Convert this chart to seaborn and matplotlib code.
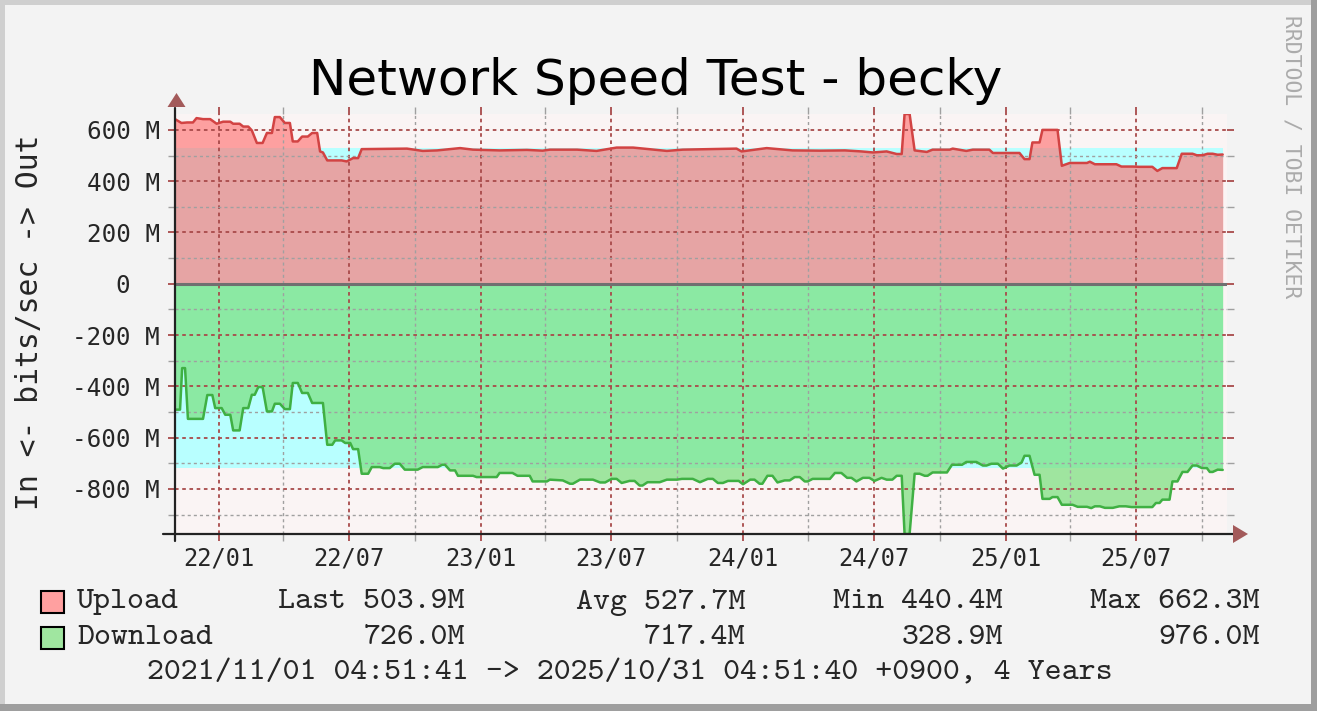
import numpy as np
import pandas as pd
import matplotlib
matplotlib.use("Agg")
import matplotlib.pyplot as plt
import matplotlib.dates as mdates
from matplotlib.ticker import MultipleLocator, FuncFormatter
from matplotlib.patches import Rectangle, Polygon
import seaborn as sns

# ---- data (Mbit/s) ----
start = pd.Timestamp("2021-11-01 04:51:41")
span_days = 1460

upload_day = [0, 9, 17, 25, 30, 39, 49, 58, 67, 77, 81, 90, 95, 102, 107, 114, 122,
              128, 135, 139, 146, 153, 160, 164, 171, 177, 185, 191, 198, 202, 206,
              212, 232, 239, 248, 255, 260, 323, 345, 365, 397, 415, 452, 490, 512,
              522, 560, 587, 615, 638, 685, 707, 782, 789, 824, 860, 898, 933, 956,
              972, 991, 1005, 1012, 1016, 1023, 1030, 1047, 1055, 1079, 1083, 1102,
              1111, 1134, 1139, 1176, 1183, 1190, 1194, 1204, 1208, 1229, 1235, 1246,
              1270, 1274, 1281, 1311, 1318, 1334, 1343, 1361, 1368, 1375, 1395, 1402,
              1417, 1423, 1431, 1438, 1445, 1452, 1459]
upload_mbps = [642, 627, 629, 629, 646, 642, 642, 624, 632, 632, 624, 624, 613, 613,
               598, 549, 549, 588, 588, 650, 650, 627, 627, 555, 555, 574, 574, 588,
               588, 516, 512, 481, 481, 477, 490, 490, 525, 527, 518, 520, 529, 523,
               520, 522, 519, 523, 523, 518, 531, 531, 518, 523, 527, 516, 529, 520,
               519, 520, 516, 512, 516, 506, 506, 662, 662, 520, 514, 523, 523, 527,
               518, 523, 523, 510, 510, 486, 486, 551, 551, 600, 600, 460, 471, 471,
               476, 466, 466, 457, 457, 456, 456, 440, 451, 451, 507, 507, 501, 501,
               507, 507, 503, 504]

download_day = [0, 7, 10, 14, 18, 39, 45, 52, 56, 65, 70, 77, 81, 90, 95, 102, 107,
                111, 116, 122, 128, 135, 139, 146, 153, 160, 164, 171, 177, 185, 191,
                206, 212, 219, 223, 232, 237, 244, 248, 255, 260, 269, 274, 285, 290,
                299, 306, 313, 320, 338, 345, 366, 372, 376, 383, 390, 394, 415, 420,
                448, 452, 470, 477, 494, 498, 518, 522, 540, 550, 554, 564, 582, 592,
                599, 608, 615, 622, 633, 640, 647, 651, 658, 675, 685, 699, 706, 721,
                731, 742, 749, 756, 763, 770, 785, 791, 801, 807, 814, 818, 825, 832,
                839, 849, 856, 863, 870, 877, 881, 888, 912, 919, 928, 936, 942, 949,
                958, 967, 974, 984, 991, 999, 1005, 1012, 1016, 1023, 1030, 1037, 1044,
                1048, 1055, 1075, 1082, 1096, 1102, 1116, 1125, 1130, 1137, 1146, 1153,
                1162, 1172, 1179, 1183, 1190, 1197, 1204, 1208, 1218, 1222, 1229, 1235,
                1250, 1257, 1270, 1276, 1281, 1288, 1295, 1306, 1315, 1324, 1332, 1361,
                1366, 1371, 1375, 1385, 1389, 1396, 1403, 1410, 1417, 1423, 1430, 1437,
                1441, 1445, 1452, 1459]
download_mbps = [491, 491, 329, 329, 527, 527, 434, 434, 485, 485, 511, 511, 572, 572,
                 485, 485, 433, 433, 403, 403, 498, 498, 468, 468, 489, 489, 387, 387,
                 426, 426, 465, 465, 628, 628, 611, 611, 621, 621, 645, 645, 741, 741,
                 715, 715, 719, 719, 702, 702, 725, 725, 715, 715, 706, 706, 728, 728,
                 749, 749, 754, 754, 738, 738, 749, 749, 771, 771, 764, 767, 780, 780,
                 764, 764, 775, 775, 761, 761, 777, 769, 769, 787, 787, 774, 774, 764,
                 764, 761, 761, 774, 761, 761, 777, 777, 769, 769, 782, 764, 764, 780,
                 780, 749, 749, 775, 767, 767, 754, 754, 771, 771, 761, 761, 738, 738,
                 757, 757, 771, 757, 757, 769, 757, 764, 764, 749, 749, 976, 976, 741,
                 741, 749, 749, 736, 736, 706, 706, 695, 695, 709, 709, 702, 702, 721,
                 709, 709, 697, 671, 671, 745, 745, 839, 839, 832, 832, 862, 862, 870,
                 870, 875, 868, 868, 874, 874, 868, 868, 871, 871, 855, 855, 842, 842,
                 771, 771, 734, 734, 709, 709, 719, 719, 734, 734, 725, 726]

upload_avg = 527.7
download_avg = 717.4

title = "Network Speed Test - becky"
y_label = "In <- bits/sec -> Out"
series_names = ["Upload", "Download"]
series_swatch = ["#FFA0A0", "#A0E6A0"]
upload_stats = ["Last 503.9M", "Avg 527.7M", "Min 440.4M", "Max 662.3M"]
download_stats = ["726.0M", "717.4M", "328.9M", "976.0M"]
period_text = "2021/11/01 04:51:41 -> 2025/10/31 04:51:40 +0900, 4 Years"

# ---- layout ----
W, H = 1317, 711
BG = "#F3F3F3"
CANVAS = "#FAF4F4"
MGRID = "#A84A4A"
NGRID = "#A0A0A0"
ARROW = "#A35A5A"
LEG_FONT = ["cmtt10", "Liberation Mono"]
LEG_SIZE = 23.3

sns.set_style("ticks")
plt.rcParams["font.family"] = ["DejaVu Sans Mono", "DejaVu Sans"]


def fx(px):
    return px / W


def fy(py):
    return 1 - py / H


fig = plt.figure(figsize=(W / 100, H / 100), dpi=100, facecolor=BG)

# 3D-ish frame of the rrdtool image
fig.add_artist(Rectangle((0, 0), fx(5), 1, transform=fig.transFigure, color="#CFCFCF", lw=0))
fig.add_artist(Rectangle((0, fy(5)), 1, 5 / H, transform=fig.transFigure, color="#CFCFCF", lw=0))
fig.add_artist(Rectangle((fx(1311), 0), fx(6), 1, transform=fig.transFigure, color="#9E9E9E", lw=0))
fig.add_artist(Rectangle((0, 0), 1, 7 / H, transform=fig.transFigure, color="#9E9E9E", lw=0))

ax = fig.add_axes([fx(175), fy(534), fx(1052), 420 / H])
ax.set_facecolor(CANVAS)

up = pd.DataFrame({"time": start + pd.to_timedelta(upload_day, unit="D"),
                   "bps": upload_mbps})
down = pd.DataFrame({"time": start + pd.to_timedelta(download_day, unit="D"),
                     "bps": -np.array(download_mbps, dtype=float)})

t_end = start + pd.Timedelta(days=span_days)
ax.fill_between([start, t_end], -download_avg, upload_avg, color="#B8FFFF", lw=0, zorder=1)
ax.fill_between(up["time"], 0, up["bps"], color="#FF7373", alpha=0.65, lw=0, zorder=1.5)
ax.fill_between(down["time"], 0, down["bps"], color="#79E07C", alpha=0.7, lw=0, zorder=1.5)
ax.axhline(0, color="#707070", lw=2.2, zorder=3)

sns.lineplot(data=up, x="time", y="bps", ax=ax, color="#D24343", lw=1.8,
             estimator=None, zorder=4)
sns.lineplot(data=down, x="time", y="bps", ax=ax, color="#3FB043", lw=1.8,
             estimator=None, zorder=4)
ax.set_xlabel("")
ax.set_ylabel("")

ax.set_xlim(start, start + pd.Timedelta(days=1465))
ax.set_ylim(-max(download_mbps), max(upload_mbps))

ax.xaxis.set_major_locator(mdates.MonthLocator(bymonth=(1, 7)))
ax.xaxis.set_minor_locator(mdates.MonthLocator(bymonth=(4, 10)))
ax.xaxis.set_major_formatter(mdates.DateFormatter("%y/%m"))
ax.yaxis.set_major_locator(MultipleLocator(200))
ax.yaxis.set_minor_locator(MultipleLocator(100))
ax.yaxis.set_major_formatter(FuncFormatter(lambda v, p: "0  " if v == 0 else f"{int(v)} M"))

ax.set_axisbelow(False)
ax.grid(which="major", color=MGRID, ls=(0, (2.0, 2.0)), lw=1.3)
ax.grid(which="minor", color=NGRID, ls=(0, (2.2, 2.2)), lw=1.0)
ax.tick_params(which="both", left=True, right=True, top=True, bottom=True,
               direction="out", labeltop=False, labelright=False)
ax.tick_params(which="major", color=MGRID, length=5, width=1.3)
ax.tick_params(which="minor", color=NGRID, length=5, width=1.0)
ax.tick_params(axis="x", pad=4, labelsize=17)
ax.tick_params(axis="y", pad=6, labelsize=17.5)
for s in ax.spines.values():
    s.set_visible(False)

# axis lines with arrow heads
ax.plot([0, 0], [-0.017, 1.015], transform=ax.transAxes, color="#222222", lw=1.6,
        clip_on=False, zorder=5)
ax.plot([-0.0114, 1.0057], [0, 0], transform=ax.transAxes, color="#222222", lw=1.6,
        clip_on=False, zorder=5)
fig.add_artist(Polygon([(fx(167.5), fy(107)), (fx(185.5), fy(107)), (fx(176.5), fy(93))],
                       closed=True, transform=fig.transFigure, color=ARROW, lw=0))
fig.add_artist(Polygon([(fx(1233), fy(525)), (fx(1233), fy(543)), (fx(1248), fy(534))],
                       closed=True, transform=fig.transFigure, color=ARROW, lw=0))

# texts
fig.text(fx(656), fy(95), title, ha="center", va="baseline", fontsize=36.1,
         family="DejaVu Sans", color="black")
fig.text(fx(30), fy(322), y_label, rotation=90, ha="center", va="center",
         fontsize=21.4, family="DejaVu Sans Mono")
fig.text(fx(1292), fy(157), "RRDTOOL / TOBI OETIKER", rotation=-90, ha="center",
         va="center", fontsize=15.4, family="DejaVu Sans Mono", color="#ABABAB")

stat_right = [465, 745, 1003, 1260]
row_y = [602, 638]
rows = [upload_stats, download_stats]
for name, sw, stats, y in zip(series_names, series_swatch, rows, row_y):
    fig.add_artist(Rectangle((fx(41), fy(y + 11)), fx(23), 22 / H, transform=fig.transFigure,
                             fc=sw, ec="black", lw=1.5))
    fig.text(fx(77), fy(y), name, ha="left", va="center", fontsize=LEG_SIZE,
             family=LEG_FONT)
    for txt, xr in zip(stats, stat_right):
        fig.text(fx(xr), fy(y), txt, ha="right", va="center", fontsize=LEG_SIZE,
                 family=LEG_FONT)
fig.text(fx(630), fy(673), period_text, ha="center", va="center", fontsize=LEG_SIZE,
         family=LEG_FONT)

fig.savefig("out.png", dpi=100, facecolor=BG)
